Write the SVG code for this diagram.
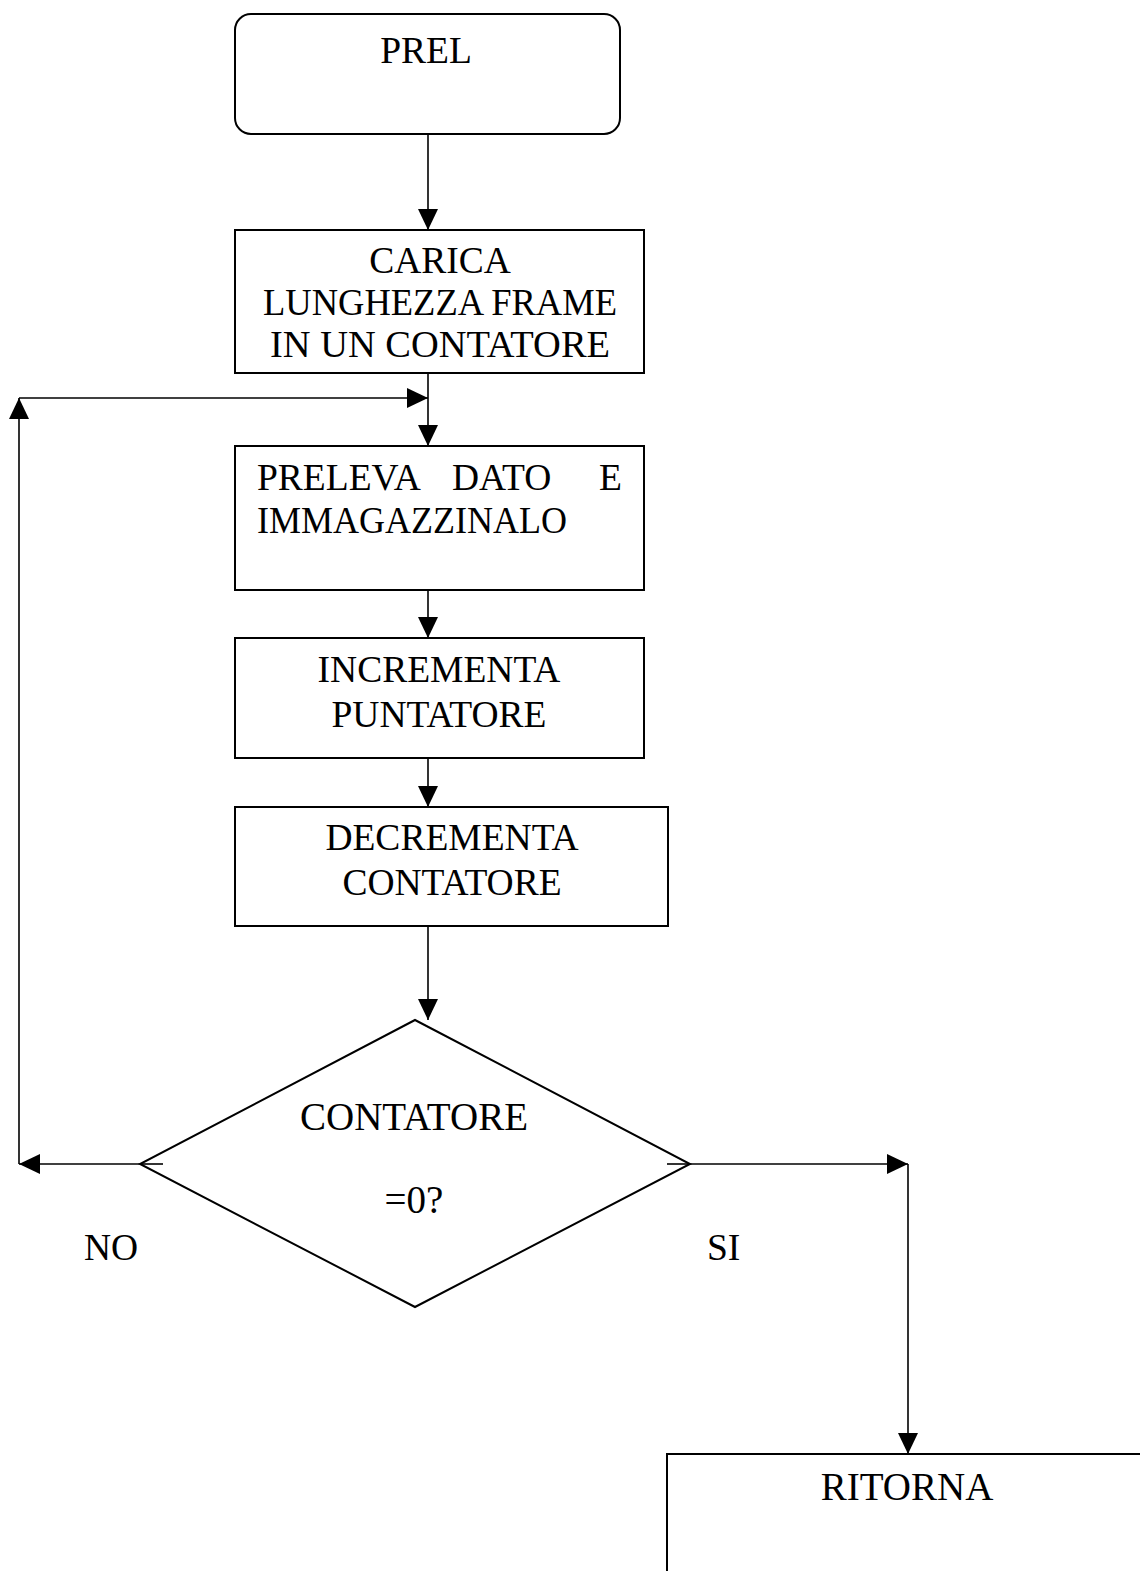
<svg xmlns="http://www.w3.org/2000/svg" width="1140" height="1571" viewBox="0 0 1140 1571">
<style>
.box{fill:#fff;stroke:#000;stroke-width:2}
.con{fill:none;stroke:#000;stroke-width:1.6}
.t{font-family:"Liberation Serif","Times New Roman",serif;font-size:37.5px;fill:#000}
.c{text-anchor:middle}
.d{font-size:39px}
</style>
<defs>
<marker id="ah" markerUnits="userSpaceOnUse" markerWidth="22" markerHeight="22" viewBox="0 0 22 22" refX="21" refY="11" orient="auto">
<path d="M0,1 L21,11 L0,21 Z" fill="#000"/>
</marker>
</defs>
<rect width="1140" height="1571" fill="#fff"/>
<g id="connectors">
<line class="con" x1="428" y1="134" x2="428" y2="230" marker-end="url(#ah)"/>
<line class="con" x1="428" y1="373" x2="428" y2="446" marker-end="url(#ah)"/>
<line class="con" x1="428" y1="590" x2="428" y2="638" marker-end="url(#ah)"/>
<line class="con" x1="428" y1="758" x2="428" y2="807" marker-end="url(#ah)"/>
<line class="con" x1="428" y1="926" x2="428" y2="1020" marker-end="url(#ah)"/>
<line class="con" x1="163" y1="1164" x2="19" y2="1164" marker-end="url(#ah)"/>
<line class="con" x1="19" y1="1164" x2="19" y2="398" marker-end="url(#ah)"/>
<line class="con" x1="19" y1="398" x2="428" y2="398" marker-end="url(#ah)"/>
<line class="con" x1="667" y1="1164" x2="908" y2="1164" marker-end="url(#ah)"/>
<line class="con" x1="908" y1="1164" x2="908" y2="1454" marker-end="url(#ah)"/>
</g>
<g id="prel">
<rect class="box" x="235" y="14" width="385" height="120" rx="16" ry="16"/>
<text class="t c" x="426" y="63">PREL</text>
</g>
<g id="carica">
<rect class="box" x="235" y="230" width="409" height="143"/>
<text class="t c" x="440" y="273">CARICA</text>
<text class="t c" x="440" y="315" textLength="354" lengthAdjust="spacingAndGlyphs">LUNGHEZZA FRAME</text>
<text class="t c" x="440" y="357" textLength="340" lengthAdjust="spacingAndGlyphs">IN UN CONTATORE</text>
</g>
<g id="preleva">
<rect class="box" x="235" y="446" width="409" height="144"/>
<text class="t" y="490"><tspan x="257">PRELEVA</tspan><tspan x="452">DATO</tspan><tspan x="599">E</tspan></text>
<text class="t" x="257" y="533" textLength="310" lengthAdjust="spacingAndGlyphs">IMMAGAZZINALO</text>
</g>
<g id="incrementa">
<rect class="box" x="235" y="638" width="409" height="120"/>
<text class="t c" x="439" y="682">INCREMENTA</text>
<text class="t c" x="439" y="727">PUNTATORE</text>
</g>
<g id="decrementa">
<rect class="box" x="235" y="807" width="433" height="119"/>
<text class="t c" x="452" y="850">DECREMENTA</text>
<text class="t c" x="452" y="895">CONTATORE</text>
</g>
<g id="decisione">
<polygon class="box" points="415,1020 690,1164 415,1307 140,1164"/>
<line class="con" x1="140" y1="1164" x2="163" y2="1164"/>
<line class="con" x1="667" y1="1164" x2="690" y2="1164"/>
<text class="t c d" x="414" y="1130">CONTATORE</text>
<text class="t c d" x="414" y="1213">=0?</text>
</g>
<g id="labels">
<text class="t" x="84" y="1260">NO</text>
<text class="t" x="707" y="1260">SI</text>
</g>
<g id="ritorna">
<rect class="box" x="667" y="1454" width="490" height="140"/>
<text class="t c d" x="907" y="1500">RITORNA</text>
</g>
</svg>
